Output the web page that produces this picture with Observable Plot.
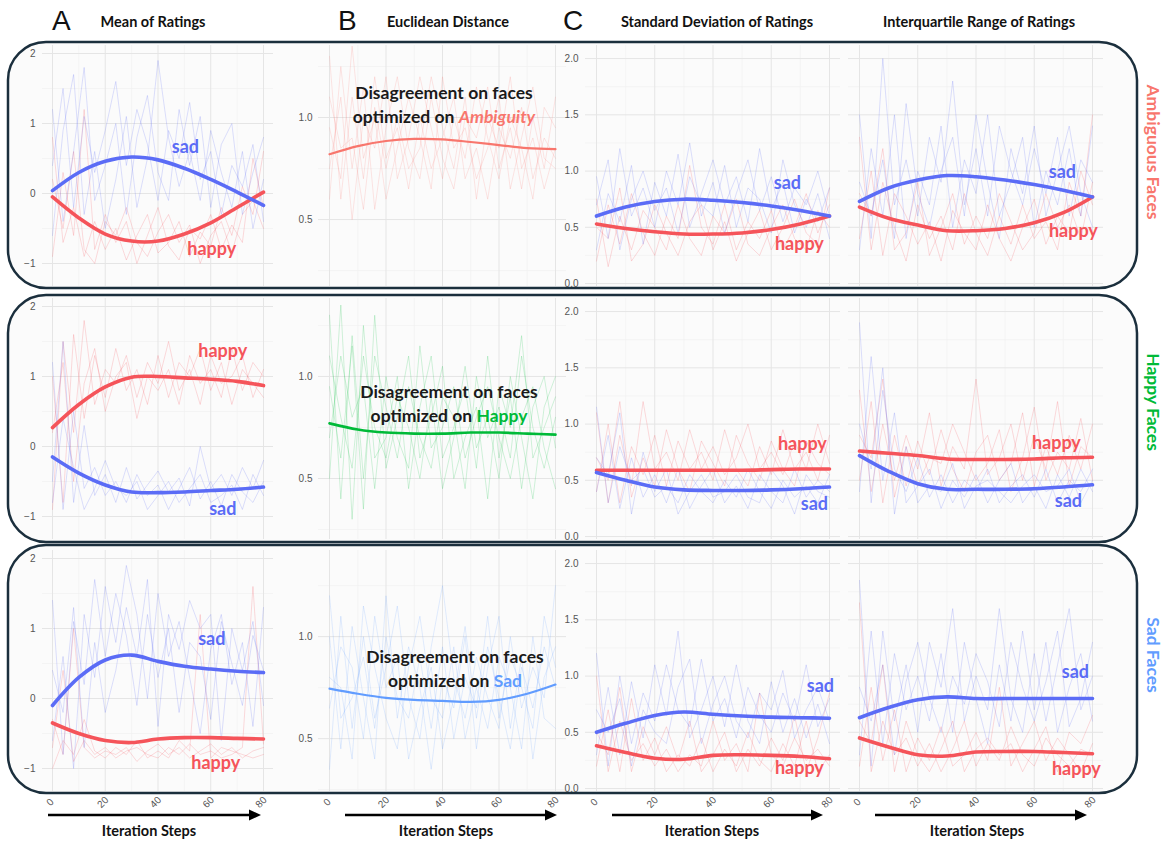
<!DOCTYPE html>
<html><head><meta charset="utf-8">
<script src="https://cdn.jsdelivr.net/npm/d3@7"></script>
<script src="https://cdn.jsdelivr.net/npm/@observablehq/plot@0.6"></script>
<style>
body{margin:0;background:#fff;}
#wrap{position:relative;width:1166px;height:841px;overflow:hidden;font-family:Lato,sans-serif;}
#wrap svg{position:absolute;}
</style></head><body><div id="wrap"></div>
<script>
// ---------- data ----------
const steps = [0,4,8,12,16,20,24,28,32,36,40,44,48,52,56,60,64,68,72,76,80];
const trendSteps = [0,10,20,30,40,50,60,70,80];
const xTicks = [0,20,40,60,80];
const xMinor = [10,30,50,70];
const meanTicks = [-1,0,1,2], meanMinor = [-0.5,0.5,1.5];
const distTicks = [0.5,1.0], distMinor = [0.25,0.75,1.25];
const spreadTicks = [0,0.5,1,1.5,2], spreadMinor = [0.25,0.75,1.25,1.75];
const rowNames = ["Ambiguous Faces","Happy Faces","Sad Faces"];
const columnTitles = ["Mean of Ratings","Euclidean Distance","Standard Deviation of Ratings","Interquartile Range of Ratings"];
const columnLetters = ["A","B","C"];
const optimizedOn = ["Ambiguity","Happy","Sad"];
const seriesNames = ["sad","happy"];
const axisTitle = "Iteration Steps";

// smoothed trends (at trendSteps)
const ambMeanSad   = [0.04,0.30,0.46,0.52,0.48,0.36,0.20,0.02,-0.17];
const ambMeanHappy = [-0.05,-0.35,-0.58,-0.68,-0.68,-0.58,-0.42,-0.20,0.02];
const ambDist      = [0.82,0.86,0.885,0.895,0.893,0.88,0.865,0.85,0.845];
const ambSdSad     = [0.60,0.68,0.73,0.75,0.74,0.72,0.69,0.65,0.60];
const ambSdHappy   = [0.53,0.49,0.46,0.44,0.44,0.45,0.48,0.53,0.60];
const ambIqrSad    = [0.73,0.85,0.92,0.96,0.95,0.92,0.88,0.83,0.77];
const ambIqrHappy  = [0.68,0.58,0.52,0.47,0.47,0.49,0.54,0.63,0.77];

const hapMeanHappy = [0.27,0.60,0.85,0.99,1.00,0.98,0.96,0.93,0.87];
const hapMeanSad   = [-0.15,-0.38,-0.55,-0.65,-0.66,-0.65,-0.63,-0.61,-0.58];
const hapDist      = [0.77,0.74,0.725,0.72,0.72,0.725,0.725,0.72,0.715];
const hapSdHappy   = [0.59,0.59,0.59,0.59,0.59,0.59,0.595,0.60,0.60];
const hapSdSad     = [0.57,0.50,0.44,0.415,0.41,0.41,0.415,0.425,0.44];
const hapIqrHappy  = [0.76,0.74,0.72,0.69,0.685,0.685,0.69,0.70,0.705];
const hapIqrSad    = [0.72,0.58,0.47,0.42,0.42,0.42,0.425,0.44,0.46];

const sadMeanSad   = [-0.10,0.30,0.55,0.62,0.53,0.46,0.42,0.39,0.37];
const sadMeanHappy = [-0.35,-0.50,-0.60,-0.63,-0.58,-0.56,-0.56,-0.57,-0.58];
const sadDist      = [0.745,0.72,0.70,0.69,0.685,0.68,0.69,0.72,0.765];
const sadSdSad     = [0.50,0.58,0.65,0.68,0.66,0.645,0.635,0.63,0.625];
const sadSdHappy   = [0.38,0.32,0.27,0.26,0.295,0.30,0.295,0.285,0.265];
const sadIqrSad    = [0.63,0.72,0.79,0.815,0.80,0.80,0.80,0.80,0.80];
const sadIqrHappy  = [0.45,0.37,0.30,0.29,0.325,0.33,0.33,0.32,0.31];

// individual face trajectories (hundredths, at steps)
const ambMeanSadRuns = ["40 150 -20 110 30 90 160 40 120 70 -10 90 50 130 20 60 -30 40 10 70 -40","-60 90 170 -30 60 -50 20 110 -20 50 190 80 10 60 -10 90 30 -20 60 -50 20","120 -40 60 180 -10 40 100 -30 80 140 30 -10 120 40 110 -20 70 100 -30 30 80"];
const ambMeanHappyRuns = ["80 -70 -20 -90 -40 -80 -50 -95 -60 -30 -85 -70 -40 -90 -55 -75 -20 -60 10 -30 60","-90 30 -60 120 -80 -30 -70 -40 -100 -60 -20 -75 -95 -50 -65 -30 -80 -45 -70 50 -20","20 -50 60 -80 -100 -40 -60 -20 -70 -90 -55 -30 -70 -45 -100 -60 -40 -85 -30 -10 -50"];
const ambDistRuns = ["130 60 110 70 120 80 95 65 100 75 90 110 70 85 60 95 80 105 70 90 80","60 125 75 115 55 95 120 85 70 110 80 65 100 90 115 75 95 65 100 75 110","95 70 135 80 100 60 85 110 90 65 120 85 95 70 85 110 65 90 115 80 75","75 110 50 100 85 120 70 90 120 95 70 100 80 115 90 70 100 85 60 105 95","110 85 90 55 105 75 100 75 85 120 95 75 110 60 100 85 120 75 90 65 85"];
const ambSdSadRuns = ["95 40 120 60 85 50 100 70 125 60 90 45 80 110 65 95 55 85 70 100 60","30 80 55 105 35 90 60 115 50 80 110 70 95 55 120 65 90 45 75 55 85","70 110 30 75 100 65 85 45 95 70 60 105 50 85 75 45 110 70 50 80 40"];
const ambSdHappyRuns = ["20 70 35 80 45 25 60 40 105 50 35 70 30 55 40 65 30 50 80 45 70","75 15 60 30 65 50 30 70 40 25 60 45 75 35 25 50 70 40 30 65 50","50 40 85 20 35 70 45 25 55 70 30 55 20 45 65 30 50 75 45 35 85"];
const ambIqrSadRuns = ["150 40 200 70 110 60 130 90 180 70 120 60 140 100 70 120 80 130 60 110 90","30 120 60 150 40 100 70 140 50 110 80 150 60 90 130 50 100 70 120 60 140","90 60 110 40 160 80 50 100 130 60 150 90 40 120 80 140 60 100 140 80 50"];
const ambIqrHappyRuns = ["130 30 90 50 20 70 40 60 30 80 45 25 60 35 70 40 55 30 90 60 150","40 100 25 80 60 35 55 20 65 45 30 70 40 20 50 75 35 60 45 100 70","80 60 120 30 45 90 25 50 80 35 60 40 80 55 30 45 80 50 70 40 90"];

const hapMeanHappyRuns = ["-90 150 20 180 60 110 90 130 70 120 90 150 80 110 60 130 90 100 130 70 110","100 -80 160 40 130 70 140 80 110 60 130 70 120 100 140 80 120 60 110 90 70","20 120 -50 90 140 50 100 120 40 100 80 110 60 130 90 110 70 140 80 120 100"];
const hapMeanSadRuns = ["120 -90 50 -60 -30 -70 -50 -80 -40 -70 -55 -90 -60 -30 -75 -50 -85 -40 -65 -80 -50","-50 150 -80 30 -70 -40 -80 -30 -75 -55 -35 -65 -45 -85 0 -60 -40 -70 -30 -60 -20","-80 40 -30 -90 -60 -20 -60 -70 -50 -90 -70 -50 -80 -60 -40 -80 -70 -55 -90 -40 -70"];
const hapDistRuns = ["130 40 120 50 110 85 60 95 70 55 90 80 45 100 70 85 60 110 75 55 80","50 135 30 125 60 70 100 45 85 110 60 75 95 55 110 60 90 45 85 100 65","95 60 115 35 130 55 80 110 60 80 105 50 70 85 40 95 75 120 60 75 90","70 110 80 95 45 100 70 55 115 65 75 95 60 80 95 70 50 80 95 65 45","110 80 55 110 75 60 90 75 50 90 45 70 105 65 80 50 100 70 40 85 100"];
const hapSdHappyRuns = ["110 30 90 45 120 60 75 50 95 60 80 55 70 100 60 75 55 85 60 100 65","40 100 30 80 55 90 45 85 60 75 50 95 60 45 80 55 95 60 75 50 90","70 50 120 35 70 45 95 60 40 85 65 45 90 65 50 85 60 45 85 65 55"];
const hapSdSadRuns = ["115 30 80 50 60 35 45 30 55 40 30 50 35 60 40 25 50 35 45 30 55","40 90 25 70 35 55 30 60 25 45 60 30 45 25 55 40 30 60 35 50 40","70 55 110 20 75 40 60 20 40 55 35 40 55 35 30 60 45 20 55 40 35"];
const hapIqrHappyRuns = ["130 40 100 50 90 60 110 45 80 60 140 55 70 100 50 90 60 120 45 80 70","50 120 30 90 45 85 55 95 60 40 75 90 50 65 110 45 80 55 90 60 100","90 70 140 35 80 45 70 65 100 75 50 65 95 40 70 115 50 75 60 105 50"];
const hapIqrSadRuns = ["190 30 130 60 40 70 35 55 30 50 40 60 30 45 55 35 60 30 50 40 60","40 160 50 110 30 45 60 25 50 35 55 30 50 65 30 45 25 55 35 60 40","100 60 150 20 80 30 45 40 65 25 45 50 40 30 45 55 40 45 60 30 50"];

const sadMeanSadRuns = ["140 -80 110 20 170 60 150 90 -10 120 30 100 -20 80 60 -30 110 50 -10 90 40","-60 60 -100 120 30 160 80 190 120 0 150 60 110 30 -50 70 120 20 80 -40 130","40 -20 130 -70 80 -20 40 130 60 170 -40 120 70 140 100 120 -60 100 40 110 -10"];
const sadMeanHappyRuns = ["-30 -80 100 -70 -85 -75 -80 -70 -90 -75 -65 -80 -70 -85 -75 -65 -80 -70 -85 -75 -70","-70 40 -90 -60 -80 -70 -85 -75 -70 -80 -85 -70 -80 -65 -80 -75 -85 -80 -70 160 -65","-100 -60 -80 -30 -75 -85 -70 -80 -60 -85 -75 -85 -60 -75 120 -85 -70 -75 -80 -85 -80"];
const sadDistRuns = ["35 110 55 100 60 85 115 70 50 95 125 80 60 90 70 55 100 65 85 70 125","100 45 105 70 40 120 60 95 75 35 80 65 100 45 85 110 55 90 40 80 95","80 75 40 115 85 60 45 85 110 70 60 95 50 75 55 90 75 45 100 60 55","65 95 85 50 110 75 90 40 65 85 45 70 105 60 95 70 45 85 65 95 75","120 60 70 90 55 100 70 60 90 55 95 50 80 65 110 60 90 75 55 110 85"];
const sadSdSadRuns = ["120 20 100 40 85 60 110 70 55 115 60 80 45 90 65 50 85 60 110 55 80","30 90 30 95 45 110 65 140 45 70 100 55 110 60 40 95 50 80 45 75 40","70 50 80 20 70 50 40 90 115 40 75 100 60 45 85 70 105 45 70 90 60"];
const sadSdHappyRuns = ["100 15 60 25 40 20 35 15 30 20 60 25 40 15 85 30 20 45 25 35 20","20 70 15 80 25 45 15 30 20 45 15 35 20 50 25 15 40 20 60 15 30","50 30 90 15 55 30 55 25 60 15 30 50 15 35 20 45 25 65 15 45 85"];
const sadIqrSadRuns = ["185 20 140 60 110 50 130 90 160 60 100 70 160 80 50 120 60 110 160 70 100","30 140 40 120 70 100 60 120 50 130 80 40 110 60 140 70 130 50 90 120 60","90 60 110 30 95 130 80 50 100 75 120 95 55 130 90 60 95 140 55 80 130"];
const sadIqrHappyRuns = ["165 15 60 30 45 20 40 15 35 60 20 40 25 55 30 20 45 30 20 35 30","20 90 25 70 15 45 25 55 20 30 50 25 90 20 40 60 25 45 30 15 40","60 40 110 15 60 30 15 35 60 15 35 45 30 40 15 35 55 15 50 40 65"];

// ---------- styles / layout ----------
const red = "#f5545a", blue = "#5b6cf6";
const rowColors = ["#f8766d","#00ba38","#619cff"];
const rowTops = [45, 298, 550];
const panelH = 241;
const tickFont = "Liberation Sans, Arial, sans-serif";
const f1 = d3.format(".1f");
const fInt = d => (d < 0 ? "\u2212" : "") + Math.abs(d);

const colA = {left:0, width:280, ml:42, mr:7, xDomain:[-3.79,83.79], yTicks:meanTicks, yMinor:meanMinor, showY:true, pad:7, yFormat:fInt};
const colB = {left:290, width:278, ml:28, mr:2, xDomain:[-3.9,83.9], yTicks:distTicks, yMinor:distMinor, showY:true, pad:6, yFormat:f1};
const colC1 = {left:540, width:302, ml:45, mr:2, xDomain:[-3.78,83.78], yTicks:spreadTicks, yMinor:spreadMinor, showY:true, pad:7, yFormat:f1};
const colC2 = {left:846, width:259, ml:2, mr:2, xDomain:[-3.78,83.78], yTicks:spreadTicks, yMinor:spreadMinor, showY:false, pad:7, yFormat:f1};
const meanDom = [-1.329, 2.114];
const spreadDom = [-0.026, 2.116];
const distDoms = [[0.172,1.353],[0.201,1.382],[0.241,1.422]];

const S = (runs, trend, color, name, li, dx, dy) => ({runs, trend, color, name, li, dx, dy, w:3.6, op:0.3});

const panels = [
  // row 0: ambiguous
  [{...colA, yDomain:meanDom, series:[S(ambMeanHappyRuns,ambMeanHappy,red,seriesNames[1],6,1,26), S(ambMeanSadRuns,ambMeanSad,blue,seriesNames[0],5,1,-21)]},
   {...colB, yDomain:distDoms[0], series:[{runs:ambDistRuns, trend:ambDist, color:rowColors[0], w:2.2, op:0.26}]},
   {...colC1, yDomain:spreadDom, series:[S(ambSdHappyRuns,ambSdHappy,red,seriesNames[1],7,-1,20), S(ambSdSadRuns,ambSdSad,blue,seriesNames[0],7,-13,-27)]},
   {...colC2, yDomain:spreadDom, series:[S(ambIqrHappyRuns,ambIqrHappy,red,seriesNames[1],7,10,19), S(ambIqrSadRuns,ambIqrSad,blue,seriesNames[0],7,-1,-18)]}],
  // row 1: happy
  [{...colA, yDomain:meanDom, series:[S(hapMeanHappyRuns,hapMeanHappy,red,seriesNames[1],6,12,-28), S(hapMeanSadRuns,hapMeanSad,blue,seriesNames[0],6,12,19)]},
   {...colB, yDomain:distDoms[1], series:[{runs:hapDistRuns, trend:hapDist, color:rowColors[1], w:2.6, op:0.26}]},
   {...colC1, yDomain:spreadDom, series:[S(hapSdHappyRuns,hapSdHappy,red,seriesNames[1],7,2,-25), S(hapSdSadRuns,hapSdSad,blue,seriesNames[0],7,14,15)]},
   {...colC2, yDomain:spreadDom, series:[S(hapIqrHappyRuns,hapIqrHappy,red,seriesNames[1],7,-7,-15), S(hapIqrSadRuns,hapIqrSad,blue,seriesNames[0],7,5,14)]}],
  // row 2: sad
  [{...colA, yDomain:meanDom, series:[S(sadMeanHappyRuns,sadMeanHappy,red,seriesNames[1],6,5,26), S(sadMeanSadRuns,sadMeanSad,blue,seriesNames[0],6,1,-30)]},
   {...colB, yDomain:distDoms[2], series:[{runs:sadDistRuns, trend:sadDist, color:rowColors[2], w:2.2, op:0.26}]},
   {...colC1, yDomain:spreadDom, series:[S(sadSdHappyRuns,sadSdHappy,red,seriesNames[1],7,-1,12), S(sadSdSadRuns,sadSdSad,blue,seriesNames[0],7,20,-31)]},
   {...colC2, yDomain:spreadDom, series:[S(sadIqrHappyRuns,sadIqrHappy,red,seriesNames[1],7,13,17), S(sadIqrSadRuns,sadIqrSad,blue,seriesNames[0],7,12,-26)]}]
];

const wrap = document.getElementById("wrap");

// ---------- frames (background) ----------
const frameY = [[42,246],[295,247],[545,248]];
const bg = `<svg width="1166" height="841" style="left:0;top:0">` +
  frameY.map(([y,h]) => `<rect x="8" y="${y}" width="1129" height="${h}" rx="38" ry="38" fill="#fbfbfb" stroke="#1b2f3d" stroke-width="2.5"/>`).join("") + `</svg>`;
wrap.insertAdjacentHTML("beforeend", bg);

// ---------- panels ----------
const toRows = runs => runs.flatMap((s,k) => s.trim().split(/\s+/).map((v,i) => ({x:steps[i], y:+v/100, run:k})));
const toTrend = vals => vals.map((v,i) => ({x:trendSteps[i], y:v}));

panels.forEach((row, r) => row.forEach(p => {
  const showX = r === 2;
  const mb = showX ? 30 : 0;
  const grid = {strokeOpacity:1};
  const marks = [
    Plot.gridY(p.yMinor, {...grid, stroke:"#f0f0f0", strokeWidth:0.7}),
    Plot.gridX(xMinor, {...grid, stroke:"#f0f0f0", strokeWidth:0.7}),
    Plot.gridY(p.yTicks, {...grid, stroke:"#e5e5e5", strokeWidth:1}),
    Plot.gridX(xTicks, {...grid, stroke:"#e5e5e5", strokeWidth:1})
  ];
  if (p.showY) marks.push(Plot.axisY(p.yTicks, {label:null, tickSize:0, tickPadding:p.pad, tickFormat:p.yFormat, fill:"#555", fontSize:10, fontFamily:tickFont}));
  if (showX) marks.push(Plot.text(xTicks, {x:d=>d, text:d=>String(d), frameAnchor:"bottom", dy:13, rotate:-45, fill:"#555", fontSize:10, fontFamily:tickFont}));
  for (const s of p.series) marks.push(Plot.line(toRows(s.runs), {x:"x", y:"y", z:"run", stroke:s.color, strokeWidth:0.7, strokeOpacity:s.op, clip:true}));
  for (const s of p.series) marks.push(Plot.line(toTrend(s.trend), {x:"x", y:"y", stroke:s.color, strokeWidth:s.w, curve:"catmull-rom", clip:true}));
  for (const s of p.series) if (s.name) {
    marks.push(Plot.text([{x:trendSteps[s.li], y:s.trend[s.li], t:s.name}], {x:"x", y:"y", text:"t", dx:s.dx, dy:s.dy, fill:s.color, fontSize:18, fontWeight:"bold", fontFamily:"Lato, sans-serif"}));
  }
  const svg = Plot.plot({
    width:p.width, height:panelH + mb,
    marginLeft:p.ml, marginRight:p.mr, marginTop:0, marginBottom:mb,
    x:{domain:p.xDomain, axis:null, label:null}, y:{domain:p.yDomain, axis:null, label:null},
    style:{background:"transparent", overflow:"visible"},
    marks
  });
  svg.style.left = p.left + "px";
  svg.style.top = rowTops[r] + "px";
  wrap.appendChild(svg);
}));

// ---------- overlay text ----------
const titleX = [153, 448, 717, 979];
const letterX = [52, 338, 563];
const annotX = [444, 449, 455];
const annotY = [99, 398, 663];
const rowLabelY = [152, 402, 655];
const arrows = [[48,261,149],[345,557,446],[612,823,712],[875,1087,977]];
let ov = `<svg width="1166" height="841" style="left:0;top:0;pointer-events:none">`;
columnLetters.forEach((l,i) => ov += `<text x="${letterX[i]}" y="30" font-family="${tickFont}" font-size="28" fill="#111">${l}</text>`);
columnTitles.forEach((t,i) => ov += `<text x="${titleX[i]}" y="27" text-anchor="middle" font-family="Lato" font-weight="bold" font-size="14.5" fill="#111">${t}</text>`);
rowNames.forEach((t,i) => ov += `<text transform="translate(1147,${rowLabelY[i]}) rotate(90)" text-anchor="middle" font-family="Lato" font-weight="bold" font-size="17.5" fill="${rowColors[i]}">${t}</text>`);
optimizedOn.forEach((w,i) => {
  ov += `<text x="${annotX[i]}" y="${annotY[i]}" text-anchor="middle" font-family="Lato" font-weight="bold" font-size="17.5" fill="#1a1a1a">Disagreement on faces</text>`;
  ov += `<text x="${annotX[i]}" y="${annotY[i]+24}" text-anchor="middle" font-family="Lato" font-weight="bold" font-size="17.5" fill="#1a1a1a">optimized on <tspan fill="${rowColors[i]}"${i===0?' font-style="italic"':''}>${w}</tspan></text>`;
});
arrows.forEach(([x1,x2,cx]) => {
  ov += `<line x1="${x1}" y1="815" x2="${x2-9}" y2="815" stroke="#000" stroke-width="2.5"/>`;
  ov += `<path d="M${x2},815 L${x2-12},809.5 L${x2-12},820.5 Z" fill="#000"/>`;
  ov += `<text x="${cx}" y="836" text-anchor="middle" font-family="Lato" font-weight="bold" font-size="14.5" fill="#111">${axisTitle}</text>`;
});
ov += `</svg>`;
wrap.insertAdjacentHTML("beforeend", ov);
</script></body></html>
